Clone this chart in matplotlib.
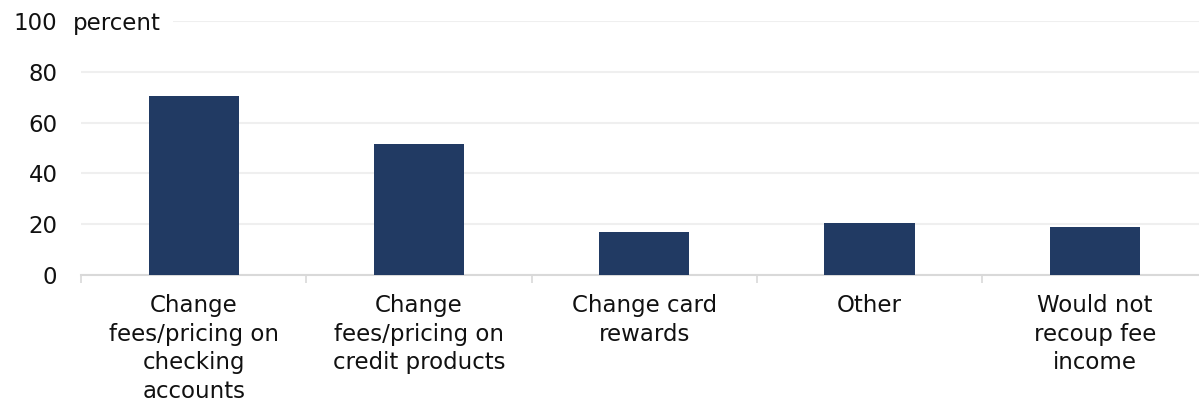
import matplotlib.pyplot as plt
from matplotlib.transforms import blended_transform_factory

# categories and share of respondents (percent)
categories = [
    'Change\nfees/pricing on\nchecking\naccounts',
    'Change\nfees/pricing on\ncredit products',
    'Change card\nrewards',
    'Other',
    'Would not\nrecoup fee\nincome',
]
values = [70.6, 51.5, 17.0, 20.5, 18.8]
yticks = [0, 20, 40, 60, 80, 100]

bar_color = '#213a63'
grid_color = '#efefef'
axis_color = '#d9d9d9'
text_color = '#111111'
fs = 16.5

plt.rcParams['font.family'] = ['DejaVu Sans']

fig = plt.figure(figsize=(11.99, 4.07), dpi=100)
ax = fig.add_axes([81 / 1199, 1 - 275 / 407, 1 - 81 / 1199, 254 / 407])

x = list(range(len(categories)))
ax.bar(x, values, width=0.4, color=bar_color, zorder=3)

ax.set_yticks(yticks)
ax.set_yticklabels([str(v) for v in yticks], fontsize=fs, color=text_color)
ax.tick_params(axis='y', length=0, pad=17)

# category labels centred in each bin, ticks on the bin edges
ax.set_xticks(x)
ax.set_xticklabels(categories, fontsize=fs, color=text_color, linespacing=1.3, va='top')
ax.tick_params(axis='x', which='major', length=0, pad=14)
ax.set_xticks([i + 0.5 for i in range(-1, len(categories))], minor=True)
ax.tick_params(axis='x', which='minor', length=6, width=1.2, color=axis_color, direction='out')

ax.set_ylim(0, 100)
ax.set_xlim(-0.5, 4.5 - 8.5 / 225.5)

ax.grid(axis='y', color=grid_color, linewidth=1.5, zorder=0)
for side in ['top', 'right', 'left']:
    ax.spines[side].set_visible(False)
ax.spines['bottom'].set_color(axis_color)
ax.spines['bottom'].set_linewidth(1.5)

trans = blended_transform_factory(ax.transAxes, ax.transData)
ax.text(-8 / 1118, 100, 'percent', transform=trans, fontsize=fs, color=text_color,
        va='center_baseline', ha='left', zorder=4, clip_on=False,
        bbox=dict(facecolor='white', edgecolor='none', pad=9))

fig.savefig('out.png', dpi=100)
